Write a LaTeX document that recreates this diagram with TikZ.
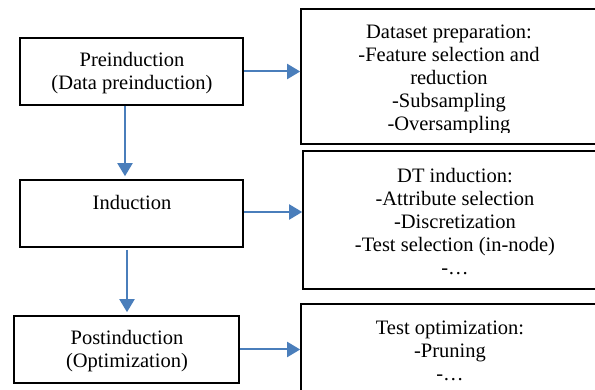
\documentclass[tikz,border=0pt]{standalone}
\usepackage{fontspec}
\setmainfont{Liberation Serif}
\usetikzlibrary{arrows.meta}
\definecolor{flowblue}{HTML}{4A7EBB}
\tikzset{
  stagebox/.style={draw=black, line width=1.6pt, rectangle, inner sep=0pt},
  txt/.style={align=center, inner sep=0pt, font=\fontsize{20.5}{23}\selectfont},
  flow/.style={draw=flowblue, line width=2pt, -{Triangle[length=13pt,width=15pt]}},
}
\begin{document}
\begin{tikzpicture}[x=1pt,y=-1pt]
\useasboundingbox (0,0) rectangle (595,390);
\fill[white] (0,0) rectangle (595,390);
\clip (0,0) rectangle (595,390);

% stages on the left
\node[stagebox, minimum width=223pt, minimum height=67pt] (pre)  at (131.5,71.5)  {};
\node[stagebox, minimum width=223pt, minimum height=67pt] (ind)  at (131.5,213.5) {};
\node[stagebox, minimum width=225pt, minimum height=67pt] (post) at (126.5,349.5) {};

\node[txt] (preT)  at (132,73.5)  {Preinduction\\(Data preinduction)};
\node[txt] (indT)  at (132,202)   {Induction};
\node[txt] (postT) at (127,351.5) {Postinduction\\(Optimization)};

% detail boxes on the right
\node[stagebox, minimum width=299pt, minimum height=135pt] (data) at (450.5,76.5) {};
\node[stagebox, minimum width=307pt, minimum height=138pt] (dt)   at (456.5,220)  {};
\node[stagebox, minimum width=299pt, minimum height=96pt]  (opt)  at (450.5,352)  {};

\begin{scope}
  \clip (302,10) rectangle (594,133);
  \node[txt] (dataT) at (449,80) {Dataset preparation:\\-Feature selection and\\reduction\\-Subsampling\\-Oversampling};
\end{scope}
\node[txt] (dtT)  at (455,222)   {DT induction:\\-Attribute selection\\-Discretization\\-Test selection (in-node)\\-…};
\node[txt] (optT) at (450,350.5) {Test optimization:\\-Pruning\\-…};

% connectors
\draw[flow] ([xshift=-6.5pt]pre.south) -- ([xshift=-6.5pt, yshift=3pt]ind.north);
\draw[flow] ([xshift=-4.5pt, yshift=-2pt]ind.south) -- ([xshift=-4.5pt, yshift=3pt]ind.south |- post.north);
\draw[flow] (pre.east) -- (pre.east -| data.west);
\draw[flow] ([yshift=1.5pt]ind.east) -- ([yshift=1.5pt]ind.east -| dt.west);
\draw[flow] (post.east) -- (post.east -| opt.west);
\end{tikzpicture}
\end{document}
